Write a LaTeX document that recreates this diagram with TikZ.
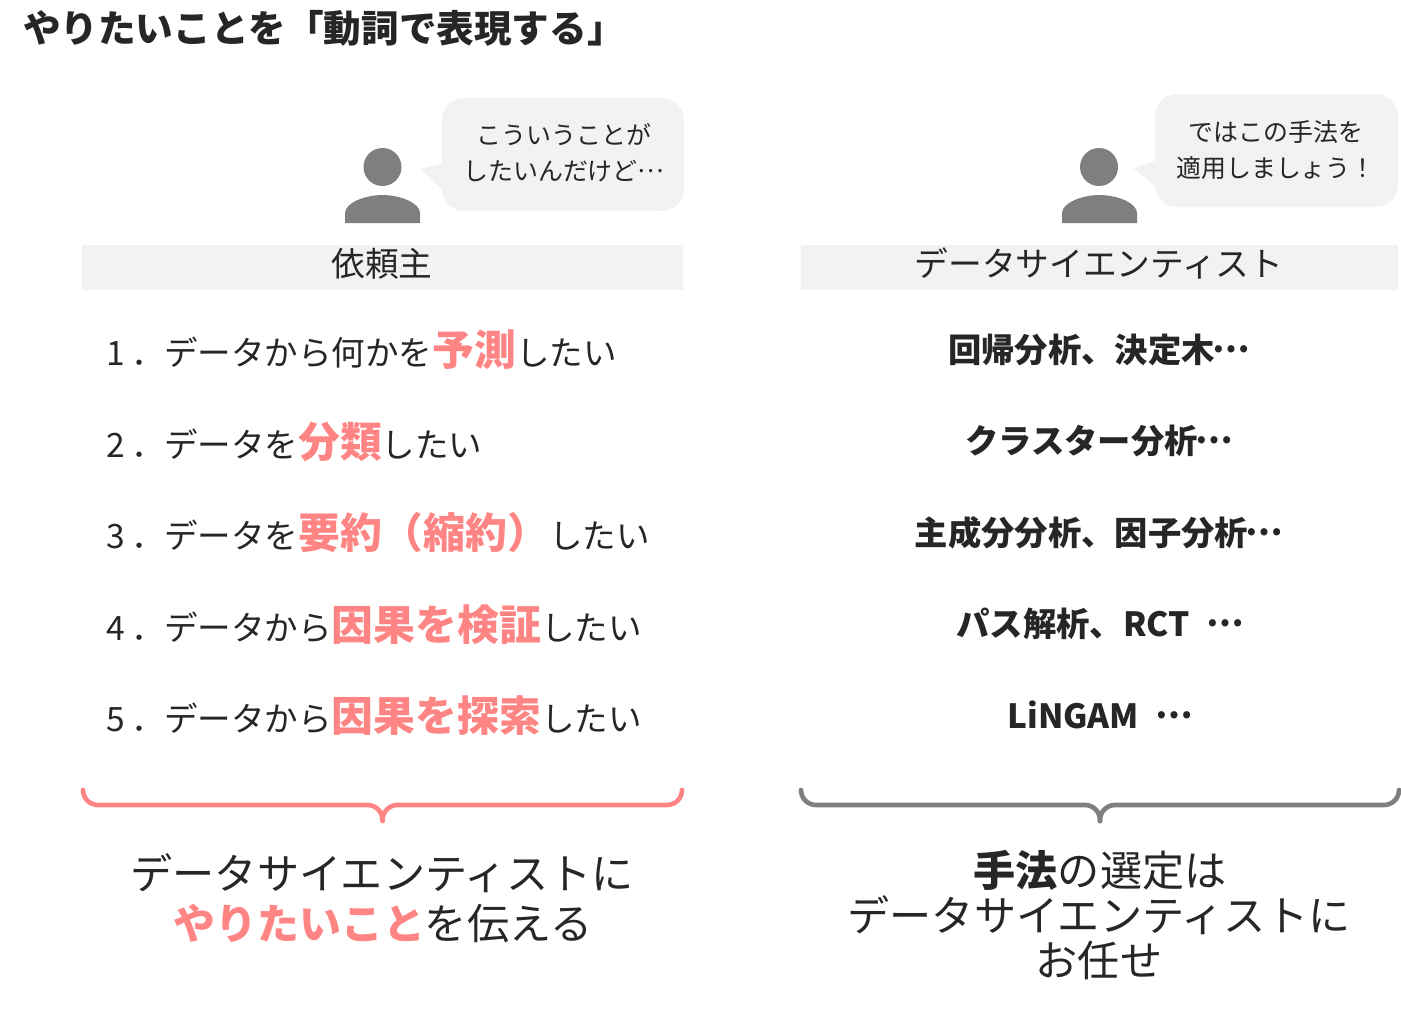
\documentclass[tikz,border=0pt]{standalone}
\usepackage{fontspec}
\setmainfont{Noto Sans CJK JP}
\definecolor{ink}{HTML}{262626}
\definecolor{pinkk}{HTML}{FF8585}
\definecolor{greyy}{HTML}{7F7F7F}
\definecolor{pale}{HTML}{F2F2F2}
\newcommand{\pk}[1]{{\fontsize{31.4}{31.4}\selectfont\bfseries\color{pinkk}#1}}
\newcommand{\bb}[1]{{\bfseries #1}}
\newcommand{\dd}{\makebox[1em]{\raisebox{0.3em}{…}}}
\tikzset{
  txt/.style={inner sep=0pt,outer sep=0pt,text=ink,anchor=base},
  title/.style={txt,anchor=base west,font=\fontsize{28.2}{28.2}\selectfont\bfseries},
  say/.style={txt,font=\fontsize{18.7}{18.7}\selectfont},
  head/.style={txt,font=\fontsize{25.3}{25.3}\selectfont},
  item/.style={txt,anchor=base west,font=\fontsize{25.15}{25.15}\selectfont},
  method/.style={txt,font=\fontsize{25}{25}\selectfont\bfseries},
  big/.style={txt,font=\fontsize{31.6}{31.6}\selectfont},
  bubble/.style={fill=pale,rounded corners=16.5pt},
  bar/.style={fill=pale},
  person/.style={fill=greyy},
  brace/.style={line width=3.5pt,line cap=round,line join=round}
}
\begin{document}
\begin{tikzpicture}[x=0.75pt,y=-0.75pt]
\useasboundingbox (0,0) rectangle (1401,1017);
\node[title] (ttl) at (23,42) {やりたいことを「動詞で表現する」};
% left person
\fill[person] (382.5,167) circle [radius=19];
\fill[person] (345,223) -- (345,213) .. controls (345,203) and (365,195) .. (382.5,195) .. controls (400,195) and (420,203) .. (420,213) -- (420,223) -- cycle;
\fill[pale] (420,169) -- (444,163) -- (444,191) -- cycle;
\fill[bubble] (442,98) rectangle (684,211);
\node[say] (s1) at (564,144) {こういうことが};
\node[say] (s2) at (563,180) {したいんだけど\dd};
% right person
\fill[person] (1099,167) circle [radius=19];
\fill[person] (1062,223) -- (1062,213) .. controls (1062,203) and (1082,195) .. (1099.5,195) .. controls (1117,195) and (1137,203) .. (1137,213) -- (1137,223) -- cycle;
\fill[pale] (1133,168) -- (1157,160) -- (1157,188) -- cycle;
\fill[bubble] (1155,94) rectangle (1398,207);
\node[say] (s3) at (1276,141) {ではこの手法を};
\node[say] (s4) at (1276,177) {適用しましょう！};
% bars
\fill[bar] (82,245) rectangle (683,290);
\fill[bar] (801,245) rectangle (1398,290);
\node[head] (h1) at (382,276) {依頼主};
\node[head] (h2) at (1099,276) {データサイエンティスト};
% left list
\node[item] (n1) at (106,365) {1};
\node[item] (p1) at (131,365) {．};
\node[item] (i1) at (164,365) {データから何かを\pk{予測}したい};
\node[item] (n2) at (106,457) {2};
\node[item] (p2) at (131,457) {．};
\node[item] (i2) at (164,457) {データを\pk{分類}したい};
\node[item] (n3) at (106,548) {3};
\node[item] (p3) at (131,548) {．};
\node[item] (i3) at (164,548) {データを\pk{要約（縮約）}したい};
\node[item] (n4) at (106,640) {4};
\node[item] (p4) at (131,640) {．};
\node[item] (i4) at (164,640) {データから\pk{因果を検証}したい};
\node[item] (n5) at (106,731) {5};
\node[item] (p5) at (131,731) {．};
\node[item] (i5) at (164,731) {データから\pk{因果を探索}したい};
% right list
\node[method] (m1) at (1098,362) {回帰分析、決定木\dd};
\node[method] (m2) at (1098,453) {クラスター分析\dd};
\node[method] (m3) at (1098,545) {主成分分析、因子分析\dd};
\node[method] (m4) at (1099,636) {パス解析、RCT\hspace{0.55em}\dd};
\node[method] (m5) at (1099,728) {LiNGAM\hspace{0.55em}\dd};
% braces
\draw[brace,pinkk] (83,790) arc[start angle=180,end angle=90,radius=15] -- (367.5,805) arc[start angle=270,end angle=360,radius=15] -- (382.5,821);
\draw[brace,pinkk] (382.5,821) -- (382.5,820) arc[start angle=180,end angle=270,radius=15] -- (667,805) arc[start angle=90,end angle=0,radius=15];
\draw[brace,greyy] (801,790) arc[start angle=180,end angle=90,radius=15] -- (1085,805) arc[start angle=270,end angle=360,radius=15] -- (1100,821);
\draw[brace,greyy] (1100,821) -- (1100,820) arc[start angle=180,end angle=270,radius=15] -- (1384,805) arc[start angle=90,end angle=0,radius=15];
% bottom
\node[big] (b1) at (382,889) {データサイエンティストに};
\node[big] (b2) at (383,939) {\pk{やりたいこと}を伝える};
\node[big] (c1) at (1100,886) {\bb{手法}の選定は};
\node[big] (c2) at (1099,931) {データサイエンティストに};
\node[big] (c3) at (1099,976) {お任せ};
\end{tikzpicture}
\end{document}
